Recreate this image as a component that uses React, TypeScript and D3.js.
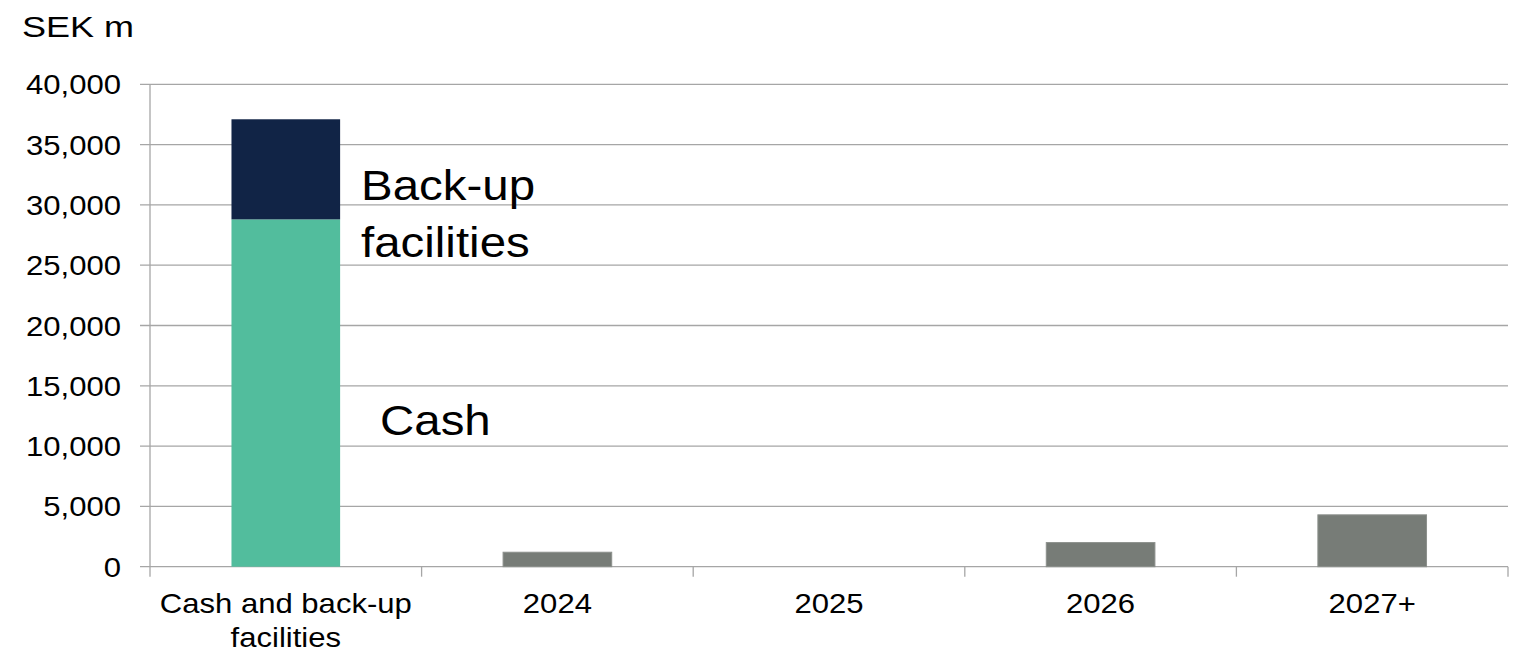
import React from "react";
import * as d3 from "d3";

const categories = ["Cash and back-up facilities", "2024", "2025", "2026", "2027+"];
const categoryLines = [["Cash and back-up", "facilities"], ["2024"], ["2025"], ["2026"], ["2027+"]];
const cashValues = [28800, 0, 0, 0, 0];
const backupValues = [8300, 0, 0, 0, 0];
const maturityValues = [0, 1200, 0, 2000, 4300];
const yTicks = [0, 5000, 10000, 15000, 20000, 25000, 30000, 35000, 40000];

const W = 1522;
const H = 658;
const left = 150;
const right = 1508;
const top = 84.3;
const bottom = 566.7;
const SX = 1.13;
const FONT = "'Liberation Sans', Arial, sans-serif";
const GRID = "#a6a6a6";

export default function App() {
  const x = d3.scaleBand<string>().domain(categories).range([left, right]).paddingInner(0.6).paddingOuter(0.3);
  const y = d3.scaleLinear().domain([0, 40000]).range([bottom, top]);
  const step = x.step();
  const fmt = d3.format(",");

  const txt = (key: string, tx: number, ty: number, s: string, size: number, anchor: string, sx: number = SX) => (
    <text key={key} transform={`translate(${tx},${ty}) scale(${sx},1)`} textAnchor={anchor} fontSize={size} fontFamily={FONT} fill="#000">
      {s}
    </text>
  );

  return (
    <svg width={W} height={H} style={{ position: "absolute", left: 0, top: 0, background: "#fff" }}>
      {yTicks.map((t) => (
        <line key={"g" + t} x1={140} x2={right} y1={y(t)} y2={y(t)} stroke={GRID} strokeWidth={1.3} />
      ))}
      <line x1={left} x2={left} y1={top} y2={bottom + 10} stroke={GRID} strokeWidth={1.3} />
      {categories.map((c, i) => {
        const bx = left + step * (i + 1);
        return <line key={"xt" + c} x1={bx} x2={bx} y1={bottom} y2={bottom + 10} stroke={GRID} strokeWidth={1.3} />;
      })}
      {categories.map((c, i) => (
        <g key={"b" + c}>
          {cashValues[i] > 0 && (
            <rect x={x(c)} width={x.bandwidth()} y={y(cashValues[i])} height={y(0) - y(cashValues[i])} fill="#52bd9d" />
          )}
          {backupValues[i] > 0 && (
            <rect x={x(c)} width={x.bandwidth()} y={y(cashValues[i] + backupValues[i])} height={y(cashValues[i]) - y(cashValues[i] + backupValues[i])} fill="#112446" />
          )}
          {maturityValues[i] > 0 && (
            <rect x={x(c)} width={x.bandwidth()} y={y(maturityValues[i])} height={y(0) - y(maturityValues[i])} fill="#777c77" stroke="#8c908c" strokeWidth={1} />
          )}
        </g>
      ))}
      {yTicks.map((t) => txt("yl" + t, 121, y(t) + 10, fmt(t), 27.5, "end"))}
      {categories.map((c, i) =>
        categoryLines[i].map((l, j) => txt("xl" + c + j, (x(c) as number) + x.bandwidth() / 2, 613 + j * 34, l, 27.5, "middle"))
      )}
      {txt("unit", 22, 37, "SEK m", 30, "start", 1.2)}
      {txt("bk1", 361, 200, "Back-up", 42, "start")}
      {txt("bk2", 361, 257, "facilities", 42, "start")}
      {txt("cash", 380, 435, "Cash", 42, "start")}
    </svg>
  );
}
